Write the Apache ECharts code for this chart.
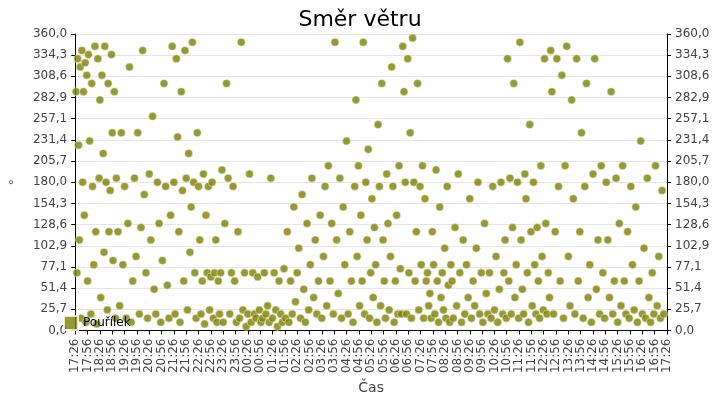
<!DOCTYPE html>
<html><head><meta charset="utf-8">
<script src="https://cdn.jsdelivr.net/npm/echarts@6/dist/echarts.min.js"></script>
<style>html,body{margin:0;padding:0;background:#fff}#c{width:720px;height:400px}</style>
</head><body><div id="c"></div>
<script>
const title = "Směr větru";
const seriesName = "Pouřílek";
const startMinute = 17*60+26;
const yTicks = [0,25.7,51.4,77.1,102.9,128.6,154.3,180,205.7,231.4,257.1,282.9,308.6,334.3,360];
// minutes since 17:26
const minutes = [
2,4,6,8,10,12,14,16,18,20,22,24,26,28,30,32,35,38,40,42,45,48,50,52,55,58,60,62,65,68,70,72,75,78,80,82,85,88,90,92,95,98,
100,104,108,112,116,120,124,128,132,136,140,144,148,152,156,160,164,168,172,176,180,184,188,192,196,200,204,208,212,216,220,224,228,232,236,
240,243,246,249,252,255,258,261,264,267,270,273,276,279,282,285,288,291,294,297,300,303,306,309,312,315,318,321,324,327,330,333,336,339,342,345,348,351,354,357,
360,364,368,372,376,380,384,388,392,396,400,404,408,412,416,420,424,428,432,436,440,444,448,452,456,460,464,468,472,476,480,484,488,492,496,500,504,508,512,516,
520,524,528,532,536,540,544,548,552,556,560,564,568,572,576,580,584,588,592,596,600,604,608,612,616,620,624,628,632,636,640,644,648,652,656,660,664,668,672,676,
680,683,686,689,692,695,698,701,704,707,710,713,716,719,722,725,728,731,734,737,740,743,746,749,752,755,758,761,764,767,770,773,776,779,782,785,788,791,794,797,
800,803,806,809,812,815,818,821,824,827,830,833,836,839,842,845,848,851,854,857,860,863,866,869,872,875,878,881,884,887,890,893,896,899,902,905,908,911,914,917,
920,924,928,932,936,940,944,948,952,956,960,964,968,972,976,980,984,988,992,996,1000,1004,1008,1012,1016,1020,1024,1028,1032,1036,
1040,1043,1046,1049,1052,1055,1058,1061,1064,1067,1070,1073,1076,1079,1082,1085,1088,1091,1094,1097,1100,1103,1106,1109,1112,1115,1118,1121,1124,1127,1130,1133,1136,1139,1142,1145,1148,1151,1154,1157,
1160,1164,1168,1172,1176,1180,1184,1188,1192,1196,1200,1204,1208,1212,1216,1220,1224,1228,1232,1236,1240,1244,1248,1252,1256,1260,1264,1268,1272,1276,
1280,1284,1288,1292,1296,1300,1304,1308,1312,1316,1320,1324,1328,1332,1336,1340,1344,1348,1352,1356,1360,1364,1368,1372,1376,1380,1384,1388,1392,1396,1400,1404,1408,1412,1416,1420,1424,1428,1432,1436
];
const degrees = [
290,70,330,225,110,320,15,340,180,290,140,325,10,310,60,335,230,20,300,175,80,345,120,8,330,185,280,40,310,215,95,345,180,25,300,120,170,335,240,85,290,15,
185,120,30,240,80,175,15,130,320,10,60,185,90,240,20,125,340,165,70,15,190,110,260,50,20,180,130,10,85,300,175,55,15,140,
345,180,20,330,235,120,10,290,170,60,340,185,25,215,95,150,350,180,70,15,240,175,110,20,60,190,8,140,70,175,25,65,180,15,70,110,10,60,20,70,
195,10,130,300,185,20,70,175,60,10,120,15,350,25,70,5,20,190,10,70,20,15,65,25,10,15,70,20,30,10,185,15,70,25,5,60,20,10,75,15,
120,10,60,20,150,35,70,100,15,165,50,10,130,25,80,185,40,110,20,60,140,15,90,175,30,200,60,130,20,350,110,45,185,15,150,80,230,20,120,60,
10,175,280,90,200,30,140,60,350,20,180,110,220,15,70,160,40,125,80,10,250,175,30,300,110,60,15,190,130,25,90,320,175,10,60,140,20,200,75,20,
345,290,180,20,330,70,240,15,355,180,60,120,300,25,175,80,200,15,160,60,70,30,45,15,120,80,20,195,60,10,150,40,70,25,100,15,175,55,10,80,
60,15,125,30,190,70,10,110,20,80,40,160,15,60,30,100,180,20,70,10,130,45,20,70,15,175,25,90,10,50,
180,20,70,110,15,330,60,185,20,125,300,40,80,180,15,350,110,50,20,190,160,70,10,250,120,30,180,80,20,125,60,15,200,90,25,330,130,20,70,40,
340,290,20,120,330,175,60,310,15,200,345,90,30,280,160,20,330,60,120,240,15,175,300,40,80,10,190,330,50,110,
20,200,70,15,180,110,40,290,20,60,185,10,130,30,200,60,20,120,15,175,80,25,150,10,60,230,20,100,15,185,40,10,70,20,200,30,90,15,170,20
];
const chart = echarts.init(document.getElementById('c'));
const data = minutes.map((m,i)=>[m, degrees[i]]);
function fmtTime(v){const t=(startMinute+v)%1440;const h=Math.floor(t/60),m=t%60;return String(h).padStart(2,'0')+':'+String(m).padStart(2,'0');}
const yAxisCommon = {
  type:'value', min:0, max:360, interval:360/14,
  axisLine:{show:true,lineStyle:{color:'#000'}}, axisTick:{show:true,length:4,lineStyle:{color:'#000'}},
  splitLine:{show:true,lineStyle:{color:'#e6e6e6'}},
  axisLabel:{color:'#444',fontFamily:'DejaVu Sans',fontSize:12,formatter:v=>v.toFixed(1).replace('.',',')}
};
chart.setOption({
  animation:false,
  title:{text:title,left:'center',top:4,textStyle:{fontFamily:'DejaVu Sans',fontSize:22,fontWeight:'normal',color:'#000'}},
  legend:{show:true,left:58,top:310,itemWidth:14,itemHeight:14,icon:'rect',textStyle:{fontFamily:'DejaVu Sans',fontSize:12,color:'#000'},data:[seriesName]},
  grid:{left:55,right:53,top:34,bottom:68},
  xAxis:{type:'value',min:0,max:1440,interval:30,name:'Čas',nameLocation:'middle',nameGap:50,
    nameTextStyle:{fontFamily:'DejaVu Sans',fontSize:14,color:'#444'},
    axisLine:{lineStyle:{color:'#000'}},axisTick:{show:true,length:4,lineStyle:{color:'#000'}},splitLine:{show:false},
    axisLabel:{rotate:90,color:'#444',fontFamily:'DejaVu Sans',fontSize:12,formatter:fmtTime,showMaxLabel:true}},
  yAxis:[Object.assign({name:'°',nameLocation:'middle',nameGap:45,nameTextStyle:{fontSize:14,color:'#444'}},yAxisCommon),
         Object.assign({position:'right'},yAxisCommon,{splitLine:{show:false}})],
  series:[{name:seriesName,type:'scatter',symbolSize:8,data:data,
    itemStyle:{color:'#808000',borderColor:'#fff',borderWidth:0.6}}]
});
</script></body></html>
